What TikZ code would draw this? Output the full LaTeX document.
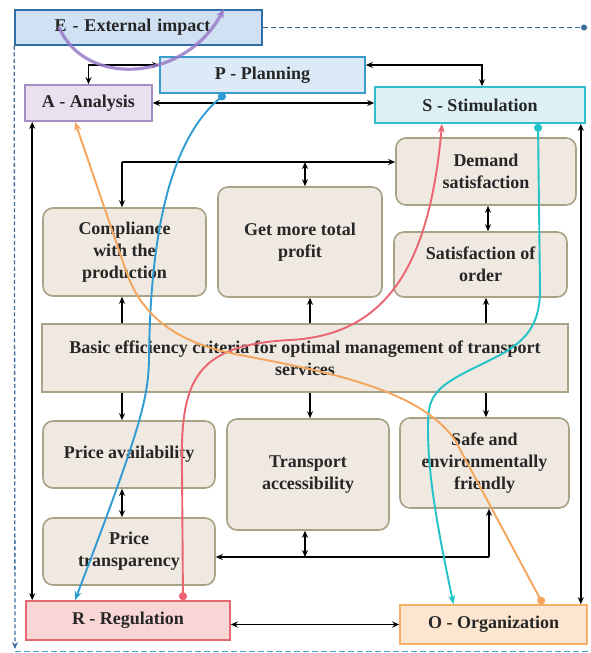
\documentclass[tikz,border=0pt]{standalone}
\usepackage{fontspec}
\setmainfont{Liberation Serif}
\usetikzlibrary{arrows.meta}
\definecolor{txt}{HTML}{262626}
\definecolor{beige}{HTML}{EFE9E1}
\definecolor{beigeline}{HTML}{A8A286}
\definecolor{Efill}{HTML}{CFE1F2}
\definecolor{Eline}{HTML}{2F6EA6}
\definecolor{Pfill}{HTML}{DCE9F6}
\definecolor{Pline}{HTML}{3A9CCB}
\definecolor{Afill}{HTML}{E9E1EF}
\definecolor{Aline}{HTML}{A58DC6}
\definecolor{Sfill}{HTML}{DDF0F5}
\definecolor{Sline}{HTML}{2EC0CA}
\definecolor{Rfill}{HTML}{F9D6D6}
\definecolor{Rline}{HTML}{E36B6F}
\definecolor{Ofill}{HTML}{FDE6CF}
\definecolor{Oline}{HTML}{F5B06A}
\definecolor{cblue}{HTML}{2E9CD2}
\definecolor{cred}{HTML}{EA6570}
\definecolor{ccyan}{HTML}{22C2C9}
\definecolor{corange}{HTML}{F5A55C}
\definecolor{cpurple}{HTML}{9A7CC8}
\definecolor{dashtop}{HTML}{3F6E9E}
\definecolor{dashbot}{HTML}{3FA2D4}
\begin{document}
\begin{tikzpicture}[x=1pt,y=-1pt,
  lbl/.style={font=\fontsize{18}{22}\selectfont\bfseries, text=txt, align=center},
  hbox/.style={lbl, draw, line width=1.6pt, inner sep=0pt},
  cbox/.style={lbl, draw=beigeline, fill=beige, line width=1.6pt, rounded corners=10pt, inner sep=0pt},
  arr/.style={-{Stealth[length=7pt,width=6pt]}, line width=1.6pt, black},
  both/.style={{Stealth[length=7pt,width=6pt]}-{Stealth[length=7pt,width=6pt]}, line width=1.6pt, black},
  curve/.style={line width=1.9pt}
]
\useasboundingbox (0,0) rectangle (591,653);
\fill[white] (0,0) rectangle (591,653);

% header boxes
\node[hbox, draw=Eline, fill=Efill, minimum width=247pt, minimum height=35pt, text width=230pt] (E) at (138.5,27.5) {E - External impact\hspace*{12pt}};
\node[hbox, draw=Pline, fill=Pfill, minimum width=205pt, minimum height=36pt] (P) at (262.5,75) {P - Planning};
\node[hbox, draw=Aline, fill=Afill, minimum width=127pt, minimum height=36pt] (A) at (88.5,103) {A - Analysis};
\node[hbox, draw=Sline, fill=Sfill, minimum width=210pt, minimum height=36pt] (S) at (480,105) {S - Stimulation};

% criteria boxes
\node[cbox, minimum width=180pt, minimum height=67pt] (Dem) at (486,171.5) {Demand\\satisfaction};
\node[cbox, minimum width=173pt, minimum height=65pt] (SatO) at (480.5,264.5) {Satisfaction of\\order};
\node[cbox, minimum width=163pt, minimum height=88pt] (Comp) at (124.5,252) {Compliance\\with the\\production};
\node[cbox, minimum width=164pt, minimum height=110pt] (Prof) at (300,242) {Get more total\\profit};
\node[lbl, draw=beigeline, fill=beige, line width=1.6pt, inner sep=0pt, minimum width=526pt, minimum height=68pt] (Basic) at (305,358) {Basic efficiency criteria for optimal management of transport\\services};
\node[cbox, minimum width=172pt, minimum height=67pt] (PAv) at (129,454.5) {Price availability};
\node[cbox, minimum width=162pt, minimum height=111pt] (Tra) at (308,474.5) {Transport\\accessibility};
\node[cbox, minimum width=169pt, minimum height=90pt] (Safe) at (484.5,463) {Safe and\\environmentally\\friendly};
\node[cbox, minimum width=172pt, minimum height=67pt] (PTr) at (129,551.5) {Price\\transparency};

% bottom boxes
\node[hbox, draw=Rline, fill=Rfill, minimum width=204pt, minimum height=39pt] (R) at (128,620.5) {R - Regulation};
\node[hbox, draw=Oline, fill=Ofill, minimum width=187pt, minimum height=39pt] (O) at (493.5,624.5) {O - Organization};

% dashed frame
\coordinate (topEnd) at (587,27.5);
\coordinate (leftEnd) at (15,649);
\coordinate (botL) at (15,651.5);
\coordinate (botR) at (591,651.5);
\draw[dashtop, line width=1.3pt, dash pattern=on 5pt off 3pt, -{Circle[length=6pt]}] (E.east) -- (topEnd);
\draw[dashtop, line width=1.3pt, dash pattern=on 4pt off 2.5pt, -{Stealth[length=7pt,width=6pt]}] (E.south west) -- (leftEnd);
\draw[dashbot, line width=1.6pt, dash pattern=on 6pt off 3pt] (botL) -- (botR);

% black connectors
\draw[both] (A.north) |- ([yshift=10pt]P.west);
\draw[both] (A.east) -- (A.east -| S.west);
\draw[both] ([yshift=10pt]P.east) -| ([xshift=2pt]S.north);
\draw[both] ([xshift=8pt]A.south west) -- ([xshift=8pt]A.south west |- R.north);
\draw[both] ([xshift=-5pt]S.south east) -- ([xshift=-5pt]S.south east |- O.north);

\coordinate (L1) at (122,162);
\draw[arr] (L1) -- (L1 -| Dem.west);
\draw[arr] (L1) -- (L1 |- Comp.north);
\draw[both] ([xshift=5pt]Prof.north) -- ([xshift=5pt]Prof.north |- L1);
\draw[both] ([xshift=2pt]Dem.south) -- ([xshift=2pt]Dem.south |- SatO.north);

\draw[arr] (Basic.north -| L1) -- (Comp.south -| L1);
\draw[arr] ([xshift=5pt]Basic.north) -- ([xshift=5pt]Basic.north |- Prof.south);
\draw[arr] (Basic.north -| Dem.south) -- (SatO.south -| Dem.south);
\draw[arr] (Basic.south -| L1) -- (PAv.north -| L1);
\draw[arr] ([xshift=5pt]Basic.south) -- ([xshift=5pt]Basic.south |- Tra.north);
\draw[arr] (Basic.south -| Dem.south) -- (Safe.north -| Dem.south);
\draw[both] (PAv.south -| L1) -- (PTr.north -| L1);

\coordinate (L2) at (489,557);
\draw[arr] (L2) -- (L2 |- Safe.south);
\draw[arr] (L2) -- (L2 -| PTr.east);
\draw[both] ([xshift=-3pt]Tra.south) -- ([xshift=-3pt]Tra.south |- L2);
\draw[both] (R.east |- O.west) -- (O.west);

% coloured curves
\draw[cpurple, line width=3.2pt, opacity=0.85, line cap=round, -{Stealth[length=9pt,width=8pt]}]
  ([xshift=45pt]E.west) .. controls (85,88) and (185,82) .. (224,9);
\draw[curve, cblue, {Circle[length=8pt]}-{Stealth[length=9pt,width=7pt]}]
  ([xshift=-37.5pt]P.south) .. controls (165,145) and (150,250) .. (149,360)
  .. controls (148,400) and (140,430) .. ([xshift=-53pt]R.north);
\draw[curve, cred, {Circle[length=8pt]}-{Stealth[length=9pt,width=7pt]}]
  ([xshift=55pt]R.north) -- (182,470) .. controls (180,380) and (195,345) .. (290,340)
  .. controls (390,335) and (430,260) .. ([xshift=-38pt]S.south);
\draw[curve, ccyan, {Circle[length=8pt]}-{Stealth[length=9pt,width=7pt]}]
  ([xshift=58pt]S.south) -- (540,290) .. controls (540,340) and (510,350) .. (470,370)
  .. controls (430,390) and (428,400) .. (428,430)
  .. controls (428,480) and (440,540) .. ([xshift=-40pt]O.north);
\draw[curve, corange, {Stealth[length=9pt,width=7pt]}-{Circle[length=8pt]}]
  ([xshift=-13.5pt]A.south) -- (125,268) .. controls (140,315) and (175,343) .. (240,355)
  .. controls (330,372) and (420,390) .. (455,440) -- ([xshift=49.5pt]O.north);
\end{tikzpicture}
\end{document}
